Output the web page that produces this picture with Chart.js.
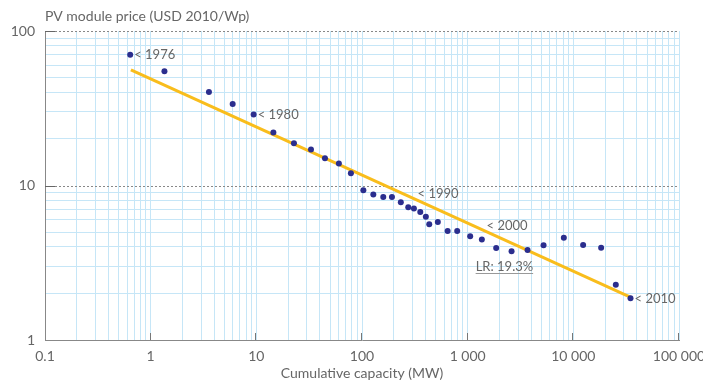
<!DOCTYPE html>
<html>
<head>
<meta charset="utf-8">
<script src="https://cdn.jsdelivr.net/npm/chart.js@4.4.0/dist/chart.umd.min.js"></script>
<style>
html, body { margin: 0; padding: 0; background: #fff; }
</style>
</head>
<body>
<canvas id="chart" width="703" height="382"></canvas>
<script>
// PV module price vs cumulative capacity (log-log)
var capacity = [0.64, 1.35, 3.56, 5.97, 9.43, 14.5, 22.7, 32.9, 44.6, 60.4, 78.5, 103, 128, 159, 192,
    233, 274, 310, 356, 402, 433, 522, 646, 796, 1056, 1362, 1861, 2603, 3687, 5224, 8128, 12380,
    18330, 25230, 34760];
var price = [70.3, 54.8, 40.3, 33.7, 28.8, 22.0, 18.8, 17.1, 15.0, 13.9, 12.0, 9.3, 8.75, 8.41, 8.41,
    7.78, 7.22, 7.11, 6.73, 6.28, 5.61, 5.80, 5.07, 5.07, 4.69, 4.48, 3.94, 3.75, 3.82, 4.10, 4.59, 4.12,
    3.96, 2.28, 1.86];

var trendCapacity = [0.65, 35000];
var trendPrice = [56, 1.89];

var xTicks = [0.1, 1, 10, 100, 1000, 10000, 100000];
var xTickLabels = ['0.1', '1', '10', '100', '1 000', '10 000', '100 000'];
var yTicks = [1, 10, 100];
var yTickLabels = ['1', '10', '100'];

var yearLabels = ['< 1976', '< 1980', '< 2010'];
var yearLabelIndex = [0, 4, 34];

var noteText = ['< 1990', '< 2000', 'LR: 19.3%'];
var noteCapacity = [336, 1510, 1190];
var notePrice = [8.8, 5.47, 2.98];

var FONT = 'Lato, "Open Sans", sans-serif';
var TEXT = '#666';
var GRID = '#c6e6f7';

function majorIndex(list, v) {
    for (var i = 0; i < list.length; i++) {
        if (Math.abs(Math.log10(v) - Math.log10(list[i])) < 1e-6) return i;
    }
    return -1;
}

// gridlines at 1..9 of every decade
function logGrid(scale) {
    var out = [];
    var lo = Math.floor(Math.log10(scale.min)), hi = Math.ceil(Math.log10(scale.max));
    for (var e = lo; e <= hi; e++) {
        for (var s = 1; s <= 9; s++) {
            var v = s * Math.pow(10, e);
            if (v >= scale.min * 0.999 && v <= scale.max * 1.001) out.push({ value: v, major: s === 1 });
        }
    }
    scale.ticks = out;
}

var decorPlugin = {
    id: 'decor',
    beforeDatasetsDraw: function(chart) {
        var ctx = chart.ctx, a = chart.chartArea;
        var xs = chart.scales.x, ys = chart.scales.y;
        ctx.save();
        ctx.lineWidth = 1;
        yTicks.forEach(function(v) {
            var py = Math.round(ys.getPixelForValue(v)) + 0.5;
            if (v > ys.min) {
                ctx.strokeStyle = '#888';
                ctx.setLineDash([2, 2]);
                ctx.beginPath(); ctx.moveTo(a.left + 10, py); ctx.lineTo(a.right, py); ctx.stroke();
                ctx.setLineDash([]);
                ctx.strokeStyle = '#666';
                ctx.beginPath(); ctx.moveTo(a.left, py); ctx.lineTo(a.left + 10, py); ctx.stroke();
            }
        });
        ctx.strokeStyle = '#777';
        xTicks.forEach(function(v) {
            if (v <= xs.min) return;
            var px = Math.round(xs.getPixelForValue(v)) - 0.5;
            ctx.beginPath(); ctx.moveTo(px, a.bottom); ctx.lineTo(px, a.bottom - 7); ctx.stroke();
        });
        ctx.restore();
    },
    afterDatasetsDraw: function(chart) {
        var ctx = chart.ctx, a = chart.chartArea;
        var xs = chart.scales.x, ys = chart.scales.y;
        ctx.save();
        ctx.fillStyle = TEXT;
        ctx.font = '13px ' + FONT;
        ctx.textAlign = 'left';
        ctx.textBaseline = 'middle';
        yearLabels.forEach(function(t, i) {
            var k = yearLabelIndex[i];
            ctx.fillText(t, xs.getPixelForValue(capacity[k]) + 4, ys.getPixelForValue(price[k]));
        });
        noteText.forEach(function(t, i) {
            var px = xs.getPixelForValue(noteCapacity[i]), py = ys.getPixelForValue(notePrice[i]);
            ctx.fillText(t, px, py);
            if (t.indexOf('LR') === 0) {
                var w = ctx.measureText(t).width;
                ctx.strokeStyle = '#999';
                ctx.lineWidth = 1;
                ctx.beginPath(); ctx.moveTo(px, Math.round(py) + 6.5); ctx.lineTo(px + w, Math.round(py) + 6.5); ctx.stroke();
            }
        });
        // y axis title
        ctx.font = '14px ' + FONT;
        ctx.fillText('PV module price (USD 2010/Wp)', a.left, 16);
        ctx.restore();
    }
};

var ctx = document.getElementById('chart').getContext('2d');
window.myChart = new Chart(ctx, {
    type: 'scatter',
    data: {
        datasets: [{
            label: 'PV module price',
            data: capacity.map(function(c, i) { return { x: c, y: price[i] }; }),
            backgroundColor: '#2b2e8e',
            borderWidth: 0,
            pointRadius: 3
        }, {
            type: 'line',
            label: 'Learning curve',
            data: trendCapacity.map(function(c, i) { return { x: c, y: trendPrice[i] }; }),
            borderColor: '#f9bd1c',
            borderWidth: 3,
            pointRadius: 0,
            fill: false
        }]
    },
    options: {
        responsive: false,
        animation: false,
        layout: { padding: { top: 31, right: 24, left: 0, bottom: 0 } },
        plugins: {
            legend: { display: false },
            tooltip: { enabled: false }
        },
        scales: {
            x: {
                type: 'logarithmic',
                min: 0.1,
                max: 100000,
                afterBuildTicks: logGrid,
                afterFit: function(scale) {
                    scale.height = 42;
                    scale.paddingLeft = 0;
                    scale.paddingRight = 0;
                },
                border: { color: '#888', width: 1 },
                grid: {
                    drawTicks: false,
                    color: function(c) { return GRID; }
                },
                ticks: {
                    autoSkip: false,
                    maxRotation: 0,
                    padding: 8,
                    color: TEXT,
                    font: { family: FONT, size: 14 },
                    callback: function(v) {
                        var k = majorIndex(xTicks, v);
                        return k >= 0 ? xTickLabels[k] : '';
                    }
                },
                title: {
                    display: true,
                    text: 'Cumulative capacity (MW)',
                    color: TEXT,
                    font: { family: FONT, size: 14 },
                    padding: { top: 0, bottom: 0 }
                }
            },
            y: {
                type: 'logarithmic',
                min: 1,
                max: 100,
                afterBuildTicks: logGrid,
                afterFit: function(scale) {
                    scale.width = 45;
                    scale.paddingTop = 0;
                    scale.paddingBottom = 0;
                },
                border: { color: '#888', width: 1 },
                grid: {
                    drawTicks: false,
                    color: function(c) {
                        return majorIndex(yTicks, c.tick.value) >= 0 ? 'rgba(0,0,0,0)' : GRID;
                    }
                },
                ticks: {
                    autoSkip: false,
                    padding: 10,
                    color: TEXT,
                    font: { family: FONT, size: 14 },
                    callback: function(v) {
                        var k = majorIndex(yTicks, v);
                        return k >= 0 ? yTickLabels[k] : '';
                    }
                }
            }
        }
    },
    plugins: [decorPlugin]
});
</script>
</body>
</html>
